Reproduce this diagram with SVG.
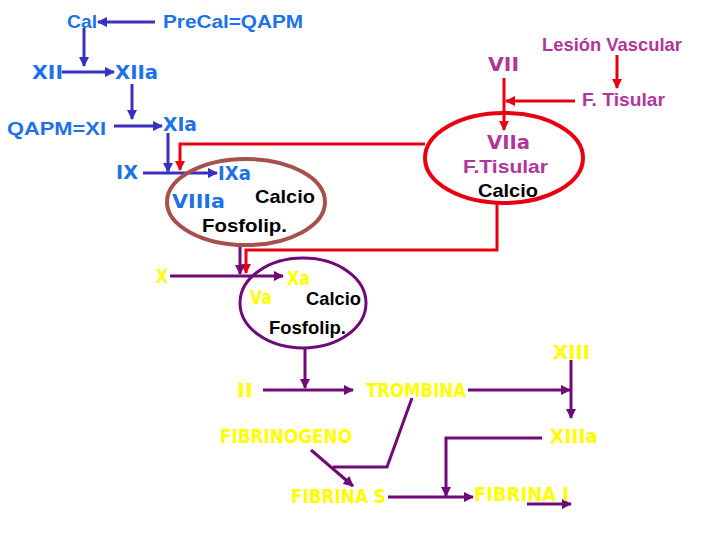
<svg xmlns="http://www.w3.org/2000/svg" width="720" height="540" viewBox="0 0 720 540">
<defs>
<marker id="ab" viewBox="0 0 10 10" refX="9" refY="5" markerWidth="3.5" markerHeight="3.5" orient="auto"><path d="M0,0L10,5L0,10z" fill="#3a30c0"/></marker>
<marker id="ar" viewBox="0 0 10 10" refX="9" refY="5" markerWidth="3.5" markerHeight="3.5" orient="auto"><path d="M0,0L10,5L0,10z" fill="#e80010"/></marker>
<marker id="ap" viewBox="0 0 10 10" refX="9" refY="5" markerWidth="3.5" markerHeight="3.5" orient="auto"><path d="M0,0L10,5L0,10z" fill="#700a78"/></marker>
</defs>
<style>
text{font-family:"DejaVu Sans",Verdana,sans-serif;font-weight:bold;font-size:19px}
.a{font-family:"Liberation Sans",Arial,sans-serif;font-size:19px}
.b{fill:#1c72e8}.p{fill:#b0379a}.k{fill:#000}.y{fill:#ffff00}
.lb{stroke:#3a30c0;stroke-width:3;fill:none}
.lr{stroke:#e80010;stroke-width:3;fill:none}
.lp{stroke:#700a78;stroke-width:3;fill:none}
</style>
<rect width="720" height="540" fill="#fff"/>
<g id="connectors">
<path class="lb" d="M155,22H98" marker-end="url(#ab)"/>
<path class="lb" d="M84,28V66" marker-end="url(#ab)"/>
<path class="lb" d="M62,72H114" marker-end="url(#ab)"/>
<path class="lb" d="M132,84V119" marker-end="url(#ab)"/>
<path class="lb" d="M114,126H162" marker-end="url(#ab)"/>
<path class="lb" d="M168,133V172" marker-end="url(#ab)"/>
<path class="lb" d="M143,173H217" marker-end="url(#ab)"/>
<path class="lr" d="M617,55V88" marker-end="url(#ar)"/>
<path class="lr" d="M575,101H506" marker-end="url(#ar)"/>
<path class="lr" d="M504,78V130" marker-end="url(#ar)"/>
<path class="lr" d="M425,144H180V170" marker-end="url(#ar)"/>
<path class="lr" d="M497,203V250H246V273" marker-end="url(#ar)"/>
<path class="lp" d="M240,246V274" marker-end="url(#ap)"/>
<path class="lp" d="M170,276H283" marker-end="url(#ap)"/>
<path class="lp" d="M305,348V388" marker-end="url(#ap)"/>
<path class="lp" d="M263,390H353" marker-end="url(#ap)"/>
<path class="lp" d="M468,390H570" marker-end="url(#ap)"/>
<path class="lp" d="M571,360V418" marker-end="url(#ap)"/>
<path class="lp" d="M542,438H446V496" marker-end="url(#ap)"/>
<path class="lp" d="M311,450L353,486" marker-end="url(#ap)"/>
<path class="lp" d="M412,398L387,467H333"/>
<path class="lp" d="M388,497H473" marker-end="url(#ap)"/>
<path class="lp" d="M527,504H571" stroke-width="1.5" marker-end="url(#ap)"/>
</g>
<g id="n-cal"><text x="67" y="28" class="a b" textLength="30" lengthAdjust="spacingAndGlyphs">Cal</text></g>
<g id="n-precal"><text x="163" y="28" class="a b" textLength="140" lengthAdjust="spacingAndGlyphs">PreCal=QAPM</text></g>
<g id="n-xii"><text x="32" y="79" class="b" textLength="31" lengthAdjust="spacingAndGlyphs">XII</text></g>
<g id="n-xiia"><text x="115" y="79" class="b" textLength="43" lengthAdjust="spacingAndGlyphs">XIIa</text></g>
<g id="n-qapm"><text x="7" y="135" class="a b" textLength="99" lengthAdjust="spacingAndGlyphs">QAPM=XI</text></g>
<g id="n-xia"><text x="163" y="131" class="b" textLength="34" lengthAdjust="spacingAndGlyphs">XIa</text></g>
<g id="n-ix"><text x="116" y="179" class="b" textLength="22" lengthAdjust="spacingAndGlyphs">IX</text></g>
<g id="n-tenase">
<ellipse cx="246" cy="202" rx="79" ry="43" fill="none" stroke="#a5524f" stroke-width="4"/>
<text x="218" y="180" class="b" textLength="33" lengthAdjust="spacingAndGlyphs">IXa</text>
<text x="172" y="208" class="b" textLength="53" lengthAdjust="spacingAndGlyphs">VIIIa</text>
<text x="255" y="203" class="a k" textLength="60" lengthAdjust="spacingAndGlyphs">Calcio</text>
<text x="202" y="232" class="a k" textLength="85" lengthAdjust="spacingAndGlyphs">Fosfolip.</text>
</g>
<g id="n-lesion"><text x="542" y="51" class="a p" textLength="140" lengthAdjust="spacingAndGlyphs">Lesión Vascular</text></g>
<g id="n-vii"><text x="488" y="71" class="p" textLength="31" lengthAdjust="spacingAndGlyphs">VII</text></g>
<g id="n-ftis"><text x="582" y="106" class="a p" textLength="83" lengthAdjust="spacingAndGlyphs">F. Tisular</text></g>
<g id="n-viia">
<ellipse cx="504" cy="158" rx="79" ry="45" fill="none" stroke="#e80010" stroke-width="4"/>
<text x="487" y="149" class="p" textLength="43" lengthAdjust="spacingAndGlyphs">VIIa</text>
<text x="463" y="173" class="a p" textLength="85" lengthAdjust="spacingAndGlyphs">F.Tisular</text>
<text x="478" y="197" class="a k" textLength="60" lengthAdjust="spacingAndGlyphs">Calcio</text>
</g>
<g id="n-x"><text x="156" y="283" class="y" textLength="12" lengthAdjust="spacingAndGlyphs">X</text></g>
<g id="n-prot">
<ellipse cx="303" cy="303" rx="63" ry="45" fill="none" stroke="#700a78" stroke-width="3"/>
<text x="287" y="285" class="y" textLength="23" lengthAdjust="spacingAndGlyphs">Xa</text>
<text x="250" y="304" class="y" textLength="22" lengthAdjust="spacingAndGlyphs">Va</text>
<text x="306" y="305" class="a k" textLength="55" lengthAdjust="spacingAndGlyphs">Calcio</text>
<text x="269" y="334" class="a k" textLength="77" lengthAdjust="spacingAndGlyphs">Fosfolip.</text>
</g>
<g id="n-ii"><text x="237" y="397" class="y" textLength="16" lengthAdjust="spacingAndGlyphs">II</text></g>
<g id="n-trombina"><text x="366" y="397" class="y" textLength="100" lengthAdjust="spacingAndGlyphs">TROMBINA</text></g>
<g id="n-xiii"><text x="553" y="359" class="y" textLength="37" lengthAdjust="spacingAndGlyphs">XIII</text></g>
<g id="n-xiiia"><text x="550" y="443" class="y" textLength="48" lengthAdjust="spacingAndGlyphs">XIIIa</text></g>
<g id="n-fibrinogeno"><text x="220" y="443" class="y" textLength="132" lengthAdjust="spacingAndGlyphs">FIBRINOGENO</text></g>
<g id="n-fibs"><text x="291" y="503" class="y" textLength="95" lengthAdjust="spacingAndGlyphs">FIBRINA S</text></g>
<g id="n-fibi"><text x="474" y="501" class="y" textLength="95" lengthAdjust="spacingAndGlyphs">FIBRINA I</text></g>
</svg>
